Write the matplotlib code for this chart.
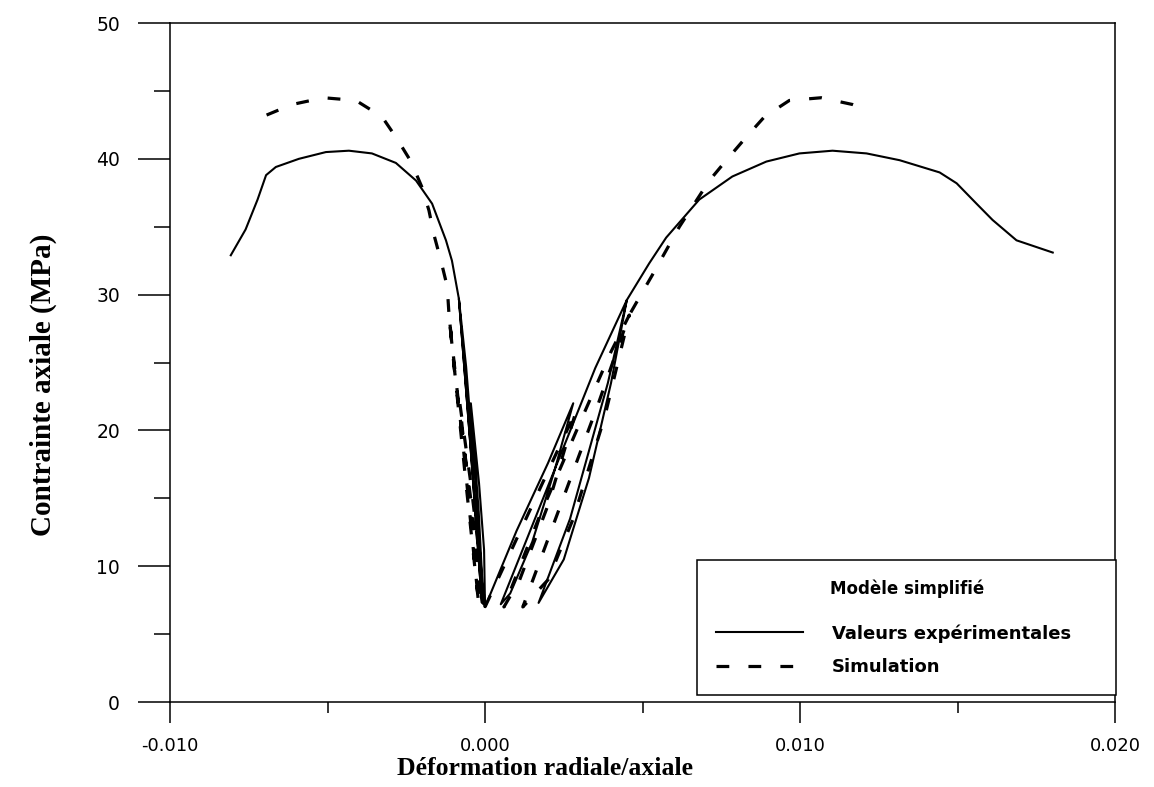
import matplotlib.pyplot as plt
from matplotlib.ticker import MultipleLocator

# Experimental curve, radial strain (left branch), with unloading/reloading cycles
exp_radial_x = [0.0, -0.00003, -0.00019, -0.00045,
                -0.0002, -0.00005,
                -0.0003, -0.0006, -0.00083,
                -0.0005, -0.0001,
                -0.0004, -0.00083,
                -0.00105, -0.00124, -0.00168, -0.00219, -0.00283, -0.00359, -0.00432,
                -0.00505, -0.00591, -0.00664, -0.00695, -0.00722, -0.0076, -0.00807]
exp_radial_y = [7.0, 11.2, 16.1, 22.0,
                14.0, 7.2,
                16.0, 24.7, 29.7,
                20.0, 7.3,
                17.0, 29.7,
                32.5, 34.0, 36.7, 38.4, 39.7, 40.4, 40.6,
                40.5, 40.0, 39.4, 38.8, 37.0, 34.8, 32.9]

# Experimental curve, axial strain (right branch)
exp_axial_x = [0.0, 0.0010, 0.0020, 0.0028,
               0.0022, 0.0015, 0.0008, 0.0005,
               0.0015, 0.0025, 0.0035, 0.0045,
               0.0040, 0.0033, 0.0025, 0.0017,
               0.0027, 0.0039, 0.0045,
               0.00521, 0.00575, 0.0068, 0.00785, 0.00893, 0.00998, 0.01103, 0.01211,
               0.01316, 0.01443, 0.01497, 0.0156, 0.01611, 0.01687, 0.01802]
exp_axial_y = [7.0, 12.6, 17.6, 22.0,
               17.0, 11.8, 8.0, 7.2,
               13.0, 18.8, 24.6, 29.6,
               23.5, 16.5, 10.5, 7.3,
               13.5, 23.5, 29.6,
               32.3, 34.2, 37.0, 38.7, 39.8, 40.4, 40.6, 40.4,
               39.9, 39.0, 38.2, 36.7, 35.5, 34.0, 33.1]

# Simulation, radial strain
sim_radial_x = [0.0, -0.0002, -0.00045, -0.00067, -0.0008,
                -0.0005, -0.0001,
                -0.0004, -0.00093, -0.00114,
                -0.0007, -0.0002,
                -0.0006, -0.00114,
                -0.0012, -0.0014, -0.00162, -0.00178, -0.002, -0.00235, -0.0028,
                -0.00327, -0.0041, -0.00512, -0.00613, -0.00696]
sim_radial_y = [7.0, 11.2, 16.1, 19.8, 22.0,
                15.0, 7.3,
                14.0, 23.5, 28.4,
                19.0, 7.2,
                16.0, 28.4,
                30.6, 32.5, 34.4, 36.2, 37.9, 39.8, 41.5,
                43.1, 44.3, 44.5, 44.0, 43.2]

# Simulation, axial strain
sim_axial_x = [0.0, 0.0012, 0.0022, 0.0029,
               0.0020, 0.0011, 0.0006,
               0.0017, 0.0030, 0.0040, 0.00458,
               0.0038, 0.0028, 0.0020, 0.0012,
               0.0024, 0.0036, 0.00458,
               0.0049, 0.0053, 0.00617, 0.00712, 0.00766, 0.00829, 0.00887, 0.00966,
               0.01067, 0.01167, 0.0119]
sim_axial_y = [7.0, 13.0, 18.0, 21.5,
               14.5, 9.0, 7.0,
               13.5, 20.5, 25.8, 28.5,
               21.0, 13.5, 9.0, 7.0,
               14.5, 22.0, 28.5,
               29.8, 31.4, 35.0, 38.4, 39.9, 41.6, 43.1, 44.3,
               44.5, 44.0, 43.8]

x_ticks = [-0.010, 0.000, 0.010, 0.020]
y_ticks = [0, 10, 20, 30, 40, 50]

fig = plt.figure(figsize=(11.54, 7.87), dpi=100)
ax = fig.add_axes([0.1473, 0.108, 0.819, 0.8627])

dash = (0, (4, 6))
exp_line, = ax.plot(exp_radial_x, exp_radial_y, color="black", lw=1.5)
ax.plot(exp_axial_x, exp_axial_y, color="black", lw=1.5)
sim_line, = ax.plot(sim_radial_x, sim_radial_y, color="black", lw=2.3, linestyle=dash)
ax.plot(sim_axial_x, sim_axial_y, color="black", lw=2.3, linestyle=dash)

ax.set_xlim(-0.010, 0.020)
ax.set_ylim(0, 50)
ax.set_xticks(x_ticks)
ax.set_xticklabels([f"{v:.3f}" for v in x_ticks])
ax.set_yticks(y_ticks)
ax.xaxis.set_minor_locator(MultipleLocator(0.005))
ax.yaxis.set_minor_locator(MultipleLocator(5))

for s in ax.spines.values():
    s.set_linewidth(1.1)

ax.tick_params(axis="x", which="major", direction="out", length=15, width=1.1, pad=10, labelsize=13)
ax.tick_params(axis="x", which="minor", direction="out", length=8, width=1.1)
ax.tick_params(axis="y", which="major", direction="out", length=23, width=1.1, pad=13, labelsize=13.5)
ax.tick_params(axis="y", which="minor", direction="out", length=11.5, width=1.1)

ax.set_xlabel("Déformation radiale/axiale", family="Liberation Serif", fontweight="bold",
              fontsize=18.5)
ax.xaxis.set_label_coords((545 - 170) / 945, -0.081)
ax.set_ylabel("Contrainte axiale (MPa)", family="Liberation Serif", fontweight="bold",
              fontsize=21)
ax.yaxis.set_label_coords(-0.12, 0.467)

leg = ax.legend([exp_line, sim_line], ["Valeurs expérimentales", "Simulation"],
                title="Modèle simplifié", loc="lower left",
                bbox_to_anchor=(0.558, 0.0103, 0.443, 0.202), mode="expand",
                frameon=True, fancybox=False, edgecolor="black", framealpha=1,
                prop={"weight": "bold", "size": 13}, title_fontproperties={"weight": "bold", "size": 12},
                borderpad=1.05, labelspacing=0.85, handlelength=4.8, handletextpad=1.6,
                borderaxespad=0)
leg._legend_box.sep = 19
leg.get_frame().set_linewidth(1.1)

fig.savefig("out.png", dpi=100)
